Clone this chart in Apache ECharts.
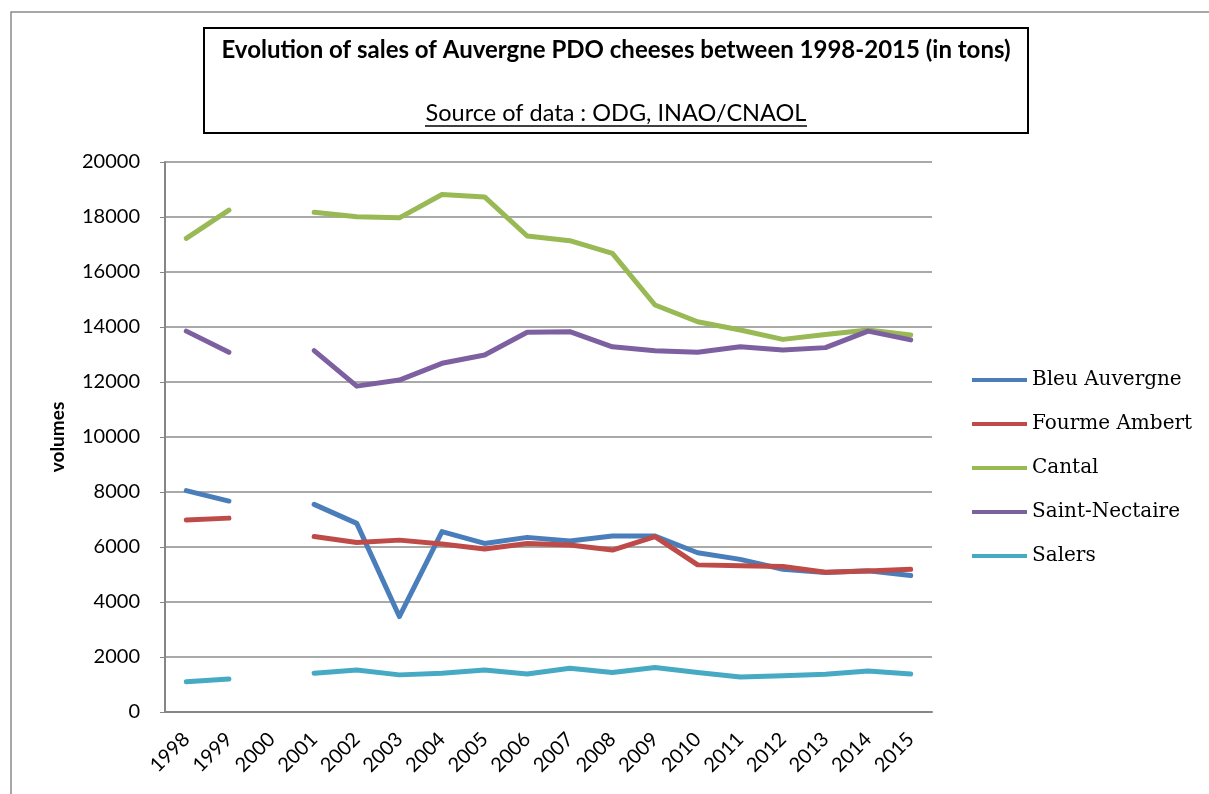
<!DOCTYPE html>
<html>
<head>
<meta charset="utf-8">
<script src="https://cdn.jsdelivr.net/npm/echarts@6/dist/echarts.min.js"></script>
<style>
  html, body { margin: 0; padding: 0; background: #fff; }
  #chart { width: 1209px; height: 794px; }
</style>
</head>
<body>
<div id="chart"></div>
<script>
// years on the x axis, 2000 has no data
const years = ['1998', '1999', '2000', '2001', '2002', '2003', '2004', '2005', '2006',
               '2007', '2008', '2009', '2010', '2011', '2012', '2013', '2014', '2015'];

const bleuAuvergne = [8050, 7670, null, 7550, 6860, 3470, 6560, 6130, 6350,
                      6220, 6400, 6400, 5790, 5550, 5190, 5070, 5140, 4960];
const fourmeAmbert = [6980, 7050, null, 6380, 6160, 6250, 6110, 5930, 6130,
                      6070, 5890, 6380, 5350, 5320, 5290, 5080, 5130, 5190];
const cantal = [17220, 18250, null, 18170, 18010, 17970, 18820, 18730, 17310,
                17140, 16680, 14800, 14190, 13890, 13550, 13730, 13890, 13710];
const saintNectaire = [13850, 13080, null, 13140, 11850, 12070, 12680, 12980, 13810,
                       13830, 13280, 13140, 13080, 13280, 13160, 13250, 13850, 13530];
const salers = [1100, 1200, null, 1410, 1530, 1350, 1410, 1530, 1380,
                1590, 1440, 1620, 1440, 1270, 1320, 1370, 1490, 1380];

const seriesNames = ['Bleu Auvergne', 'Fourme Ambert', 'Cantal', 'Saint-Nectaire', 'Salers'];
const seriesColors = ['#4A7EBB', '#BE4B48', '#98B954', '#7D60A0', '#46AAC5'];
const seriesData = [bleuAuvergne, fourmeAmbert, cantal, saintNectaire, salers];

const titleText = 'Evolution of sales of Auvergne PDO cheeses between 1998-2015 (in tons)';
const sourceText = 'Source of data : ODG, INAO/CNAOL';

const chart = echarts.init(document.getElementById('chart'));

chart.setOption({
    animation: false,
    backgroundColor: '#fff',
    grid: { left: 165, right: 277, top: 162, bottom: 82 },
    legend: {
        orient: 'vertical',
        left: 967,
        top: 363,
        itemWidth: 55,
        itemHeight: 4,
        itemGap: 20,
        icon: 'rect',
        textStyle: { fontFamily: 'DejaVu Serif', fontSize: 20, color: '#000', lineHeight: 24 },
        data: seriesNames
    },
    xAxis: {
        type: 'category',
        data: years,
        boundaryGap: true,
        axisLine: { lineStyle: { color: '#868686', width: 2 } },
        axisTick: { show: false },
        axisLabel: {
            interval: 0,
            rotate: 45,
            margin: 24,
            fontFamily: 'Lato',
            fontSize: 20,
            color: '#000'
        }
    },
    yAxis: {
        type: 'value',
        min: 0,
        max: 20000,
        interval: 2000,
        name: 'volumes',
        nameLocation: 'middle',
        nameGap: 98,
        nameTextStyle: { fontFamily: 'Lato', fontWeight: 'bold', fontSize: 19, color: '#000' },
        axisLine: { show: true, lineStyle: { color: '#868686', width: 2 } },
        axisTick: { show: true, length: 5, lineStyle: { color: '#868686' } },
        axisLabel: {
            margin: 25,
            fontFamily: 'Lato',
            fontSize: 20,
            color: '#000',
            formatter: (v) => String(v)
        },
        splitLine: { lineStyle: { color: '#8c8c8c', width: 1.5 } }
    },
    series: seriesNames.map((name, i) => ({
        name: name,
        type: 'line',
        data: seriesData[i],
        showSymbol: false,
        connectNulls: false,
        color: seriesColors[i],
        lineStyle: { width: 5, color: seriesColors[i], cap: 'round', join: 'round' }
    })),
    graphic: [
        // outer chart frame
        {
            type: 'rect',
            shape: { x: 11, y: 12, width: 1220, height: 800 },
            style: { fill: null, stroke: '#8a8a8a', lineWidth: 1.5 },
            silent: true
        },
        // title box
        {
            type: 'rect',
            shape: { x: 204, y: 28, width: 824, height: 105 },
            style: { fill: '#fff', stroke: '#000', lineWidth: 2 },
            silent: true
        },
        {
            type: 'text',
            x: 616,
            y: 50,
            style: {
                text: titleText,
                align: 'center',
                verticalAlign: 'middle',
                fontFamily: 'Lato',
                fontWeight: 'bold',
                fontSize: 24,
                fill: '#000'
            }
        },
        {
            type: 'text',
            x: 616,
            y: 113,
            style: {
                text: sourceText,
                align: 'center',
                verticalAlign: 'middle',
                fontFamily: 'Lato',
                fontSize: 23.5,
                fill: '#000'
            }
        },
        // underline of the source line
        {
            type: 'line',
            shape: { x1: 425, y1: 126, x2: 807, y2: 126 },
            style: { stroke: '#000', lineWidth: 1.5 }
        }
    ]
});
</script>
</body>
</html>
